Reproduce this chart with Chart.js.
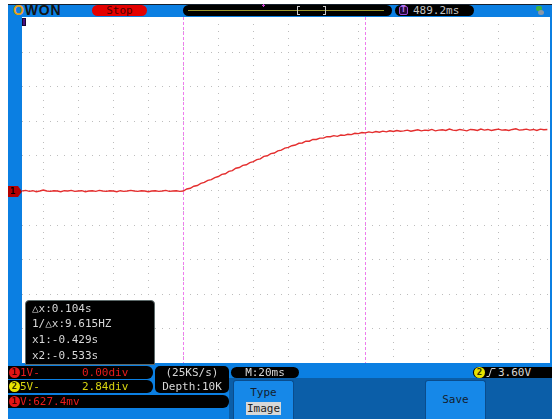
<!DOCTYPE html>
<html>
<head>
<meta charset="utf-8">
<script src="https://cdn.jsdelivr.net/npm/chart.js@4.4.1/dist/chart.umd.min.js"></script>
<style>
html,body{margin:0;padding:0;background:#fff;}
#page{position:relative;width:554px;height:419px;overflow:hidden;background:#fff;font-family:"DejaVu Sans Mono",monospace;font-size:11px;}
#page div,#page span{position:absolute;box-sizing:border-box;}
.pill{background:#000;}
.txt{white-space:nowrap;line-height:13px;}
.gray{color:#d8d8d8;}
.red{color:#e81c1c;}
.yel{color:#d8d410;}
.dot{width:11px;height:11px;border-radius:50%;font-size:9px;font-weight:bold;line-height:11px;text-align:center;}
.btn{background:#1688e8;border:1px solid #0a4c8c;border-bottom:none;border-radius:3px 3px 0 0;}
</style>
</head>
<body>
<div id="page">
  <!-- scope screen background -->
  <div style="left:8px;top:4px;width:544px;height:415px;background:#0b7fe2;"></div>
  <div style="left:8px;top:4px;width:544px;height:1px;background:#17202c;"></div>

  <!-- top status bar -->
  <div class="txt" style="left:13px;top:3px;font-family:'Liberation Sans',Arial,sans-serif;font-weight:bold;font-size:14px;letter-spacing:0.8px;line-height:15px;"><span style="position:static;color:#e8a21a;">O</span><span style="position:static;color:#141414;">WON</span></div>
  <div style="left:92px;top:5px;width:55px;height:11px;background:#e40000;border-radius:6px;"></div>
  <div class="txt" style="left:92px;top:4px;width:55px;text-align:center;color:#4a0000;">Stop</div>

  <div class="pill" style="left:183px;top:5px;width:209px;height:11px;border-radius:6px;"></div>
  <div style="left:188px;top:10px;width:196px;height:1px;background:#9a962e;"></div>
  <div style="left:297px;top:6px;width:3px;height:9px;border:1px solid #c8c8c8;border-right:none;"></div>
  <div style="left:323px;top:6px;width:3px;height:9px;border:1px solid #c8c8c8;border-left:none;"></div>
  <div style="left:262px;top:5px;width:3px;height:1px;background:#d040d0;"></div>
  <div style="left:263px;top:4px;width:1px;height:3px;background:#d040d0;"></div>

  <div class="pill" style="left:395px;top:5px;width:79px;height:11px;border-radius:6px;"></div>
  <div style="left:399px;top:6px;width:9px;height:9px;border:1px solid #9a48d8;background:#240a3a;border-radius:2px;"></div>
  <div class="txt" style="left:399px;top:5px;width:9px;text-align:center;font-size:8px;line-height:10px;font-weight:bold;color:#b47cf0;">T</div>
  <div class="txt gray" style="left:413px;top:4px;color:#c4c4c4;">489.2ms</div>

  <div style="left:536px;top:6px;width:6px;height:5px;background:#3fb23f;border-radius:2px;"></div>
  <div style="left:538px;top:10px;width:6px;height:5px;background:#8a98a8;border-radius:50%;"></div>

  <!-- waveform area -->
  <div style="left:22px;top:17px;width:528px;height:346px;background:#fff;"></div>
  <canvas id="scope" width="528" height="346" style="position:absolute;left:22px;top:17px;"></canvas>

  <div style="left:22px;top:18px;width:4px;height:8px;background:#4a1080;border:1px solid #1a0630;"></div>
  <div style="left:8px;top:186px;width:14px;height:11px;background:#b40000;clip-path:polygon(0 0,10px 0,14px 5.5px,10px 11px,0 11px);"></div>
  <div class="txt" style="left:8px;top:185px;width:10px;text-align:center;font-size:9px;font-weight:bold;color:#000;">1</div>

  <!-- cursor readout -->
  <div class="pill" style="left:25px;top:300px;width:130px;height:65px;border:1px solid #5d6a6a;border-radius:4px 4px 0 0;"></div>
  <div class="txt gray" style="left:32px;top:302px;">△x:0.104s</div>
  <div class="txt gray" style="left:32px;top:317px;">1/△x:9.615HZ</div>
  <div class="txt gray" style="left:32px;top:333px;">x1:-0.429s</div>
  <div class="txt gray" style="left:32px;top:349px;">x2:-0.533s</div>

  <!-- channel settings -->
  <div class="pill" style="left:8px;top:366px;width:145px;height:13px;border-radius:0 6px 6px 0;"></div>
  <div class="dot" style="left:9px;top:367px;background:#e41414;color:#3a0000;">1</div>
  <div class="txt red" style="left:20px;top:366px;">1V-</div>
  <div class="txt red" style="left:82px;top:366px;">0.00div</div>

  <div class="pill" style="left:8px;top:380px;width:145px;height:13px;border-radius:0 6px 6px 0;"></div>
  <div class="dot" style="left:9px;top:381px;background:#e8e200;color:#333000;">2</div>
  <div class="txt yel" style="left:20px;top:380px;">5V-</div>
  <div class="txt yel" style="left:82px;top:380px;">2.84div</div>

  <div class="pill" style="left:155px;top:366px;width:74px;height:27px;border-radius:5px;"></div>
  <div class="txt gray" style="left:155px;top:366px;width:74px;text-align:center;">(25KS/s)</div>
  <div class="txt gray" style="left:155px;top:380px;width:74px;text-align:center;">Depth:10K</div>

  <div class="pill" style="left:8px;top:395px;width:221px;height:13px;border-radius:0 6px 6px 0;"></div>
  <div class="dot" style="left:9px;top:396px;background:#e41414;color:#3a0000;">1</div>
  <div class="txt red" style="left:20px;top:395px;">V:627.4mv</div>

  <!-- timebase and trigger -->
  <div class="pill" style="left:231px;top:367px;width:68px;height:11px;border-radius:6px;"></div>
  <div class="txt gray" style="left:231px;top:366px;width:68px;text-align:center;">M:20ms</div>

  <div class="pill" style="left:473px;top:367px;width:79px;height:11px;border-radius:6px 0 0 6px;"></div>
  <div class="dot" style="left:474px;top:367px;background:#e8e200;color:#333000;">2</div>
  <svg style="position:absolute;left:486px;top:367px;" width="10" height="11"><path d="M0.5 9.5 H3 L5.5 1.5 H9.5" fill="none" stroke="#d0d0d0" stroke-width="1"/></svg>
  <div class="txt gray" style="left:498px;top:366px;">3.60V</div>

  <!-- menu panel -->
  <div style="left:229px;top:378px;width:323px;height:41px;background:#0b5ea8;"></div>
  <div class="btn" style="left:233px;top:380px;width:61px;height:39px;"></div>
  <div class="txt" style="left:233px;top:386px;width:61px;text-align:center;color:#14202e;">Type</div>
  <div style="left:246px;top:402px;width:35px;height:13px;background:#d8d8d8;"></div>
  <div class="txt" style="left:246px;top:402px;width:35px;text-align:center;color:#222;">Image</div>
  <div class="btn" style="left:425px;top:380px;width:61px;height:39px;"></div>
  <div class="txt" style="left:425px;top:393px;width:61px;text-align:center;color:#14202e;">Save</div>
</div>

<script>
// CH1 acquisition: 2 ms per sample, 1 V/div, 20 ms/div
const sampleStartMs = -625;
const sampleStepMs = 2;
const ch1Volts = [
  -0.03, -0.01, -0.04, -0.02, -0.05, -0.03, 0.00, -0.03, -0.04, -0.02,
  -0.03, -0.05, -0.02, -0.03, -0.01, -0.04, -0.03, -0.02, -0.05, -0.03,
  -0.02, -0.04, -0.01, -0.03, -0.04, -0.02, -0.03, -0.05, -0.02, -0.04,
  -0.03, -0.01, -0.03, -0.04, -0.02, -0.03, -0.05, -0.03, -0.02, -0.04,
  -0.03, -0.01, -0.04, -0.03, -0.02, -0.04,
  -0.03, 0.03, 0.05, 0.11, 0.13, 0.19, 0.22, 0.28, 0.30, 0.36,
  0.39, 0.45, 0.47, 0.54, 0.56, 0.63, 0.65, 0.71, 0.73, 0.79,
  0.82, 0.88, 0.90, 0.97, 0.99, 1.05, 1.07, 1.13, 1.15, 1.21,
  1.23, 1.28, 1.30, 1.35, 1.36, 1.41, 1.41, 1.46, 1.46, 1.50,
  1.50, 1.54, 1.54, 1.57, 1.55, 1.59, 1.58, 1.61, 1.60, 1.64,
  1.63, 1.66, 1.65, 1.68, 1.66, 1.69, 1.67, 1.70, 1.68, 1.71,
  1.69, 1.72, 1.70, 1.71, 1.73, 1.70, 1.72, 1.74, 1.71, 1.73,
  1.72, 1.75, 1.71, 1.73, 1.74, 1.72, 1.76, 1.73, 1.72, 1.75,
  1.73, 1.71, 1.75, 1.74, 1.72, 1.76, 1.73, 1.75, 1.72, 1.74,
  1.76, 1.73, 1.74, 1.72, 1.75, 1.77, 1.73, 1.74, 1.76, 1.73,
  1.75, 1.72, 1.76, 1.74, 1.75
];
// cursor readouts x1 and x2 (ms)
const cursorTimesMs = [-429, -533];

const timeDivMs = 20;
const voltDiv = 1;
const subDivisions = 5;
const xMinMs = -625.17;
const xMaxMs = -323.5;
const yMinV = -5;
const yMaxV = 5;

const ch1Points = ch1Volts.map((v, i) => ({ x: sampleStartMs + i * sampleStepMs, y: v }));

const scopeGrid = {
  id: 'scopeGrid',
  beforeDatasetsDraw(chart) {
    const { ctx, chartArea, scales } = chart;
    const xs = scales.x, ys = scales.y;
    const ref = cursorTimesMs[1];
    const firstDiv = ref - Math.floor((ref - xMinMs) / timeDivMs) * timeDivMs;
    const subT = timeDivMs / subDivisions;
    const subV = voltDiv / subDivisions;
    ctx.save();
    ctx.fillStyle = '#bdbdbd';
    // vertical division lines
    for (let k = 0; firstDiv + k * timeDivMs < xMaxMs; k++) {
      const px = Math.round(xs.getPixelForValue(firstDiv + k * timeDivMs));
      for (let j = 1; j < (yMaxV - yMinV) / subV; j++) {
        const py = Math.round(ys.getPixelForValue(yMinV + j * subV));
        ctx.fillRect(px, py, 1, 1);
      }
    }
    // horizontal division lines
    const firstSub = firstDiv - Math.floor((firstDiv - xMinMs) / subT) * subT;
    for (let v = yMinV + voltDiv; v < yMaxV; v += voltDiv) {
      const py = Math.round(ys.getPixelForValue(v));
      for (let k = 0; firstSub + k * subT < xMaxMs; k++) {
        const px = Math.round(xs.getPixelForValue(firstSub + k * subT));
        ctx.fillRect(px, py, 1, 1);
      }
    }
    // time cursors
    ctx.strokeStyle = '#ee7cee';
    ctx.lineWidth = 1;
    ctx.setLineDash([3, 2]);
    cursorTimesMs.forEach(t => {
      const px = Math.round(xs.getPixelForValue(t)) + 0.5;
      ctx.beginPath();
      ctx.moveTo(px, chartArea.top);
      ctx.lineTo(px, chartArea.bottom);
      ctx.stroke();
    });
    ctx.restore();
  }
};

new Chart(document.getElementById('scope'), {
  type: 'line',
  data: {
    datasets: [{
      label: 'CH1',
      data: ch1Points,
      borderColor: '#e42e2e',
      borderWidth: 1.4,
      pointRadius: 0,
      tension: 0,
      fill: false
    }]
  },
  options: {
    responsive: false,
    animation: false,
    devicePixelRatio: 1,
    layout: { padding: 0 },
    plugins: { legend: { display: false }, tooltip: { enabled: false } },
    scales: {
      x: { type: 'linear', display: false, min: xMinMs, max: xMaxMs },
      y: { type: 'linear', display: false, min: yMinV, max: yMaxV }
    }
  },
  plugins: [scopeGrid]
});
</script>
</body>
</html>
